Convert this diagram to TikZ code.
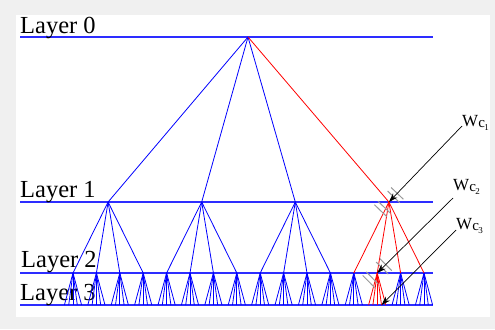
\documentclass[tikz,border=0pt]{standalone}
\usepackage{fontspec}
\setmainfont{Liberation Serif}
\usetikzlibrary{arrows.meta,calc}
\definecolor{layerblue}{RGB}{45,45,255}
\newcommand\mywsub[1]{\raisebox{-1.5bp}{\fontsize{15bp}{15bp}\selectfont c}\kern-0.5bp\raisebox{-4.5bp}{\fontsize{9bp}{9bp}\selectfont #1}}
\begin{document}
\begin{tikzpicture}[x=1bp,y=-1bp,
  edge/.style={blue,line width=0.8bp},
  hot/.style={red,line width=0.8bp},
  layerline/.style={layerblue,line width=1.2bp},
  ptr/.style={black,line width=0.7bp,-{Stealth[length=9bp,width=6bp]}},
  hatch/.style={black!40,line width=1bp},
  layerlabel/.style={anchor=base west,inner sep=0pt,font=\fontsize{24.5bp}{28bp}\selectfont},
  wlabel/.style={anchor=base west,inner sep=0pt,font=\fontsize{17bp}{19bp}\selectfont}]
\fill[black!6] (0,0) rectangle (495,329);
\fill[white] (16,15) rectangle (490,317);
\useasboundingbox (0,0) rectangle (495,329);
% layer lines
\coordinate (L0a) at (20,37);  \coordinate (L0b) at (433,37);
\coordinate (L1a) at (20,202); \coordinate (L1b) at (433,202);
\coordinate (L2a) at (20,273); \coordinate (L2b) at (433,273);
\coordinate (L3a) at (20,305); \coordinate (L3b) at (433,305);
\draw[layerline] (L0a) -- (L0b);
\draw[layerline] (L1a) -- (L1b);
\draw[layerline,line width=1.5bp] (L2a) -- (L2b);
\draw[layerline] (L3a) -- (L3b);
% labels
\node[layerlabel] (t0) at (20,33) {Layer 0};
\node[layerlabel] (t1) at (20,197) {Layer 1};
\node[layerlabel] (t2) at (21,267) {Layer 2};
\node[layerlabel] (t3) at (20,300) {Layer 3};
% tree points
\coordinate (r) at (248,37);
\foreach \i in {0,...,3} \coordinate (a\i) at ({108.1+93.6*\i},202);
\foreach \j in {0,...,15} {
  \coordinate (b\j) at ({73+23.4*\j},273);
  \foreach \k in {0,...,4} \coordinate (c\j-\k) at ({73+23.4*\j+4.3*(\k-2)},305);
}
% blue edges
\foreach \i in {0,1,2} \draw[edge] (r) -- (a\i);
\foreach \p in {0,1,2} \foreach \q in {0,...,3} {
  \pgfmathtruncatemacro{\jj}{4*\p+\q}
  \draw[edge] (a\p) -- (b\jj);
}
\foreach \j in {0,...,12,14,15} \foreach \k in {0,...,4} \draw[edge] (b\j) -- (c\j-\k);
% red path
\draw[hot] (r) -- (a3);
\foreach \q in {12,...,15} \draw[hot] (a3) -- (b\q);
\foreach \k in {0,...,4} \draw[hot] (b13) -- (c13-\k);
% W labels
\node[wlabel] (w1) at (462,126) {W\mywsub{1}};
\node[wlabel] (w2) at (453,190) {W\mywsub{2}};
\node[wlabel] (w3) at (456,229) {W\mywsub{3}};
\coordinate (w1s) at ([shift={(0,0)}]w1.base west);
\coordinate (w2s) at ([shift={(0,8)}]w2.base west);
\coordinate (w3s) at ([shift={(0,1)}]w3.base west);
% hatch marks
\foreach \n/\s in {a3/w1s, b13/w2s} {
  \foreach \k in {7,12,-7,-12} {
    \path coordinate (hc) at ($(\n)!\k bp!(\s)$);
    \draw[hatch] ($(hc)!8.5bp!90:(\s)$) -- ($(hc)!8.5bp!-90:(\s)$);
  }
}
% arrows
\draw[ptr] (w1s) -- (a3);
\draw[ptr] (w2s) -- (b13);
\draw[ptr] (w3s) -- (c13-3);
\end{tikzpicture}
\end{document}
